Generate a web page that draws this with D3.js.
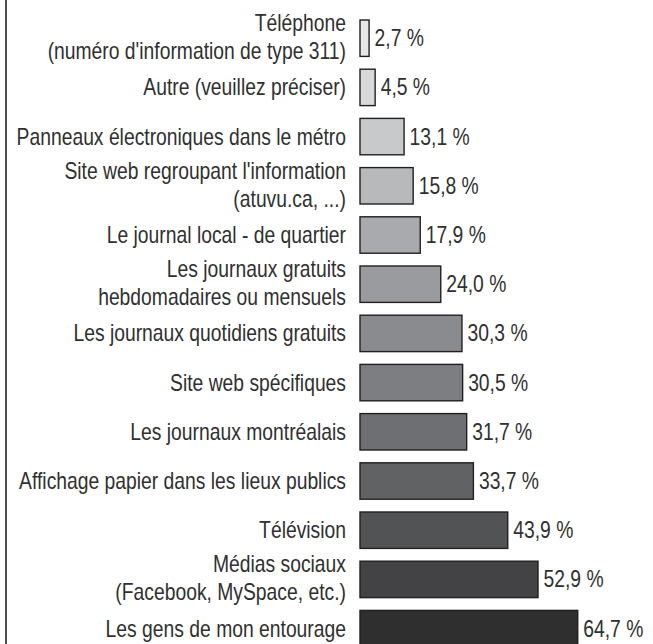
<!DOCTYPE html>
<html>
<head>
<meta charset="utf-8">
<script src="https://cdn.jsdelivr.net/npm/d3@7"></script>
<style>
  html, body { margin: 0; padding: 0; background: #fff; }
  svg { display: block; }
  text { font-family: "Liberation Sans Narrow", "Liberation Sans", Arial, sans-serif; fill: #303030; }
</style>
</head>
<body>
<script>
// Sources d'information (une ou deux lignes par catégorie)
const categories = [
  ["Téléphone", "(numéro d'information de type 311)"],
  ["Autre (veuillez préciser)"],
  ["Panneaux électroniques dans le métro"],
  ["Site web regroupant l'information", "(atuvu.ca, ...)"],
  ["Le journal local - de quartier"],
  ["Les journaux gratuits", "hebdomadaires ou mensuels"],
  ["Les journaux quotidiens gratuits"],
  ["Site web spécifiques"],
  ["Les journaux montréalais"],
  ["Affichage papier dans les lieux publics"],
  ["Télévision"],
  ["Médias sociaux", "(Facebook, MySpace, etc.)"],
  ["Les gens de mon entourage"]
];
const values = [2.7, 4.5, 13.1, 15.8, 17.9, 24.0, 30.3, 30.5, 31.7, 33.7, 43.9, 52.9, 64.7];
const fills = ["#e6e7e8", "#d9dadb", "#c8c9cb", "#b8b9bb", "#a9aaad", "#9a9b9e", "#8a8b8e",
               "#7d7e81", "#6e6f72", "#616264", "#525355", "#434345", "#2f2f2f"];

const W = 653, H = 644;
const FS = 23;          // taille du texte
const NARROW = 0.84;    // compression horizontale du texte (style « narrow »)
const fmt = v => d3.format(".1f")(v).replace(".", ",") + " %";

const svg = d3.select("body").append("svg").attr("width", W).attr("height", H);

const x = d3.scaleLinear().domain([0, 100]).range([360, 696.5]);
const y = d3.scaleBand()
  .domain(d3.range(values.length))
  .range([13.6, 653.2])
  .paddingInner(0.26)
  .paddingOuter(0.13);

// Filet vertical à gauche
svg.append("line")
  .attr("x1", 6).attr("x2", 6).attr("y1", 0).attr("y2", H)
  .attr("stroke", "#231f20").attr("stroke-width", 1.6);

const rows = svg.selectAll("g.row")
  .data(values.map((v, i) => ({ v, i, label: categories[i], fill: fills[i] })))
  .join("g").attr("class", "row");

rows.append("rect")
  .attr("x", x(0))
  .attr("y", d => y(d.i))
  .attr("width", d => x(d.v) - x(0))
  .attr("height", y.bandwidth())
  .attr("fill", d => d.fill)
  .attr("stroke", "#231f20")
  .attr("stroke-width", 1.4);

// Valeurs à droite des barres
rows.append("g")
  .attr("transform", d => `translate(${x(d.v) + 5.5},0) scale(${NARROW},1)`)
  .append("text")
  .attr("x", 0)
  .attr("y", d => y(d.i) + y.bandwidth() / 2 + 8)
  .attr("font-size", FS)
  .text(d => fmt(d.v));

// Libellés des catégories, alignés à droite
rows.each(function (d) {
  const cy = y(d.i) + y.bandwidth() / 2;
  const t = d3.select(this).append("g")
    .attr("transform", `translate(346,0) scale(${NARROW},1)`)
    .append("text")
    .attr("x", 0)
    .attr("text-anchor", "end")
    .attr("font-size", FS);
  if (d.label.length === 1) {
    t.attr("y", cy + 8).text(d.label[0]);
  } else {
    t.append("tspan").attr("x", 0).attr("y", cy - 7).text(d.label[0]);
    t.append("tspan").attr("x", 0).attr("y", cy + 21).text(d.label[1]);
  }
});
</script>
</body>
</html>
